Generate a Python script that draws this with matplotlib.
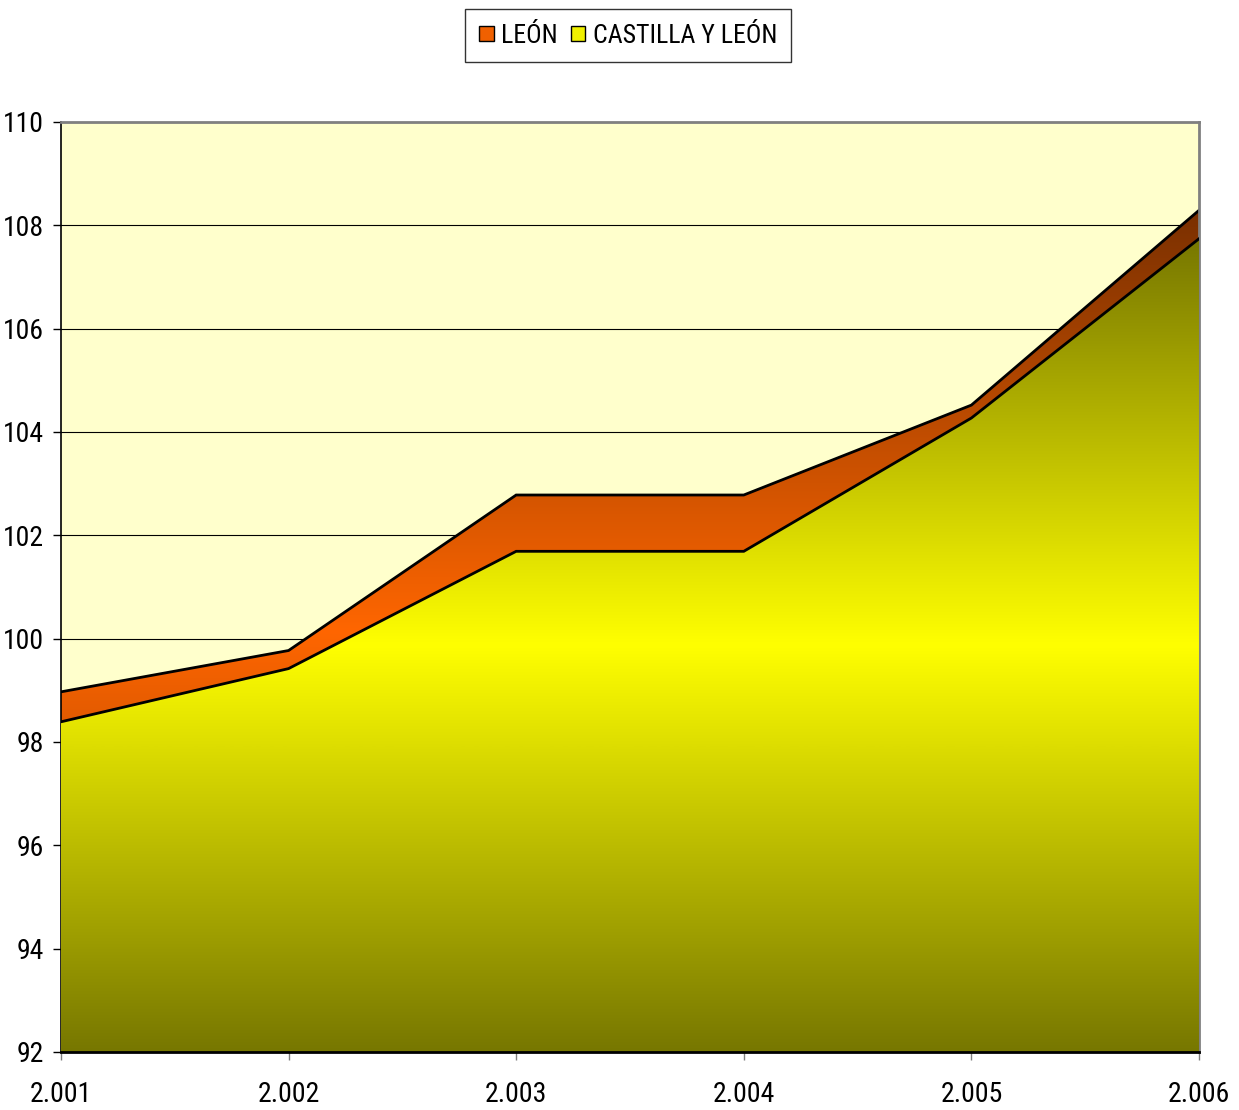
import matplotlib as mpl
import matplotlib.pyplot as plt
import matplotlib.patches as mpatches
import numpy as np

years = ['2.001', '2.002', '2.003', '2.004', '2.005', '2.006']
leon = [98.97, 99.77, 102.78, 102.78, 104.52, 108.29]
castilla_leon = [98.39, 99.42, 101.69, 101.69, 104.27, 107.74]
series_names = ['LEÓN', 'CASTILLA Y LEÓN']
y_ticks = [92, 94, 96, 98, 100, 102, 104, 106, 108, 110]

plt.rcParams['font.family'] = ['Roboto Condensed', 'DejaVu Sans']

fig = plt.figure(figsize=(12.39, 11.10), dpi=100)
ax = fig.add_axes([0.0492, 0.0523, 0.9185, 0.8378])
ax.set_facecolor('#ffffcc')

ymin, ymax = 92, 110
x = np.arange(len(years))


def gradient_area(ax, values, edge, center, z):
    # vertical gradient: dark at top/bottom, bright in the middle of the area
    verts = [(x[0], ymin)] + list(zip(x, values)) + [(x[-1], ymin)]
    poly = mpatches.Polygon(verts, closed=True, facecolor='none',
                            edgecolor='none', transform=ax.transData)
    ax.add_patch(poly)
    top = max(values)
    t = np.linspace(0, 1, 400)
    w = 1 - np.abs(t - 0.5) * 2
    edge = np.array(mpl.colors.to_rgb(edge))
    center = np.array(mpl.colors.to_rgb(center))
    img = edge[None, :] + (center - edge)[None, :] * w[:, None]
    im = ax.imshow(img[:, None, :], extent=[x[0], x[-1], ymin, top],
                   origin='lower', aspect='auto', zorder=z,
                   interpolation='bilinear')
    im.set_clip_path(poly)
    ax.plot(x, values, color='black', lw=2, zorder=z + 0.1,
            solid_joinstyle='miter')


gradient_area(ax, leon, '#7a3000', '#ff6600', 2)
gradient_area(ax, castilla_leon, '#777700', '#ffff00', 3)

ax.set_xlim(x[0], x[-1])
ax.set_ylim(ymin, ymax)
ax.set_yticks(y_ticks)
ax.set_xticks(x)
ax.set_xticklabels(years)
ax.grid(axis='y', color='black', lw=0.8, zorder=1)
ax.set_axisbelow(True)

ax.tick_params(axis='y', direction='out', length=6, width=1, labelsize=20, pad=6)
ax.tick_params(axis='x', direction='out', length=6, width=1, color='#808080',
               labelsize=20, pad=15)

ax.spines['left'].set_color('black')
ax.spines['left'].set_linewidth(1.2)
ax.spines['bottom'].set_color('black')
ax.spines['bottom'].set_linewidth(2)
ax.spines['bottom'].set_zorder(5)
ax.spines['top'].set_color('#808080')
ax.spines['top'].set_linewidth(2)
ax.spines['right'].set_color('#808080')
ax.spines['right'].set_linewidth(2)

handles = [mpatches.Patch(facecolor='#f06000', edgecolor='black', lw=1),
           mpatches.Patch(facecolor='#f0f000', edgecolor='black', lw=1)]
leg = fig.legend(handles, series_names, loc='center', bbox_to_anchor=(0.507, 0.968),
                 ncol=2, fontsize=18.5, frameon=True, fancybox=False,
                 handlelength=0.55, handleheight=0.55, handletextpad=0.3,
                 columnspacing=0.5, borderpad=0.55)
leg.get_frame().set_edgecolor('black')
leg.get_frame().set_linewidth(1)

fig.savefig('out.png', dpi=100)
